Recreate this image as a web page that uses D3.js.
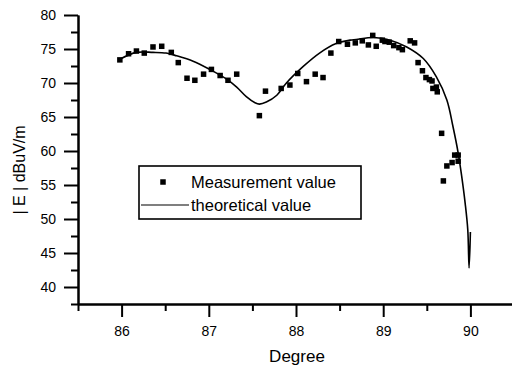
<!DOCTYPE html>
<html><head><meta charset="utf-8">
<script src="https://cdn.jsdelivr.net/npm/d3@7"></script>
<style>body{margin:0;background:#fff}svg{display:block}text{font-family:"Liberation Sans",Arial,sans-serif;fill:#000}</style>
</head><body>
<script>
const measDeg = [85.98,86.08,86.17,86.26,86.36,86.46,86.57,86.65,86.75,86.84,86.94,87.03,87.13,87.22,87.32,
  87.58,87.65,87.83,87.93,88.02,88.12,88.22,88.31,88.40,88.49,88.59,88.68,88.76,88.83,88.88,88.92,88.99,89.02,
  89.07,89.12,89.18,89.22,89.31,89.36,89.40,89.45,89.49,89.53,89.56,89.57,89.61,89.62,89.67,89.69,89.73,89.79,89.82,89.86,89.86];
const measVal = [73.4,74.3,74.7,74.4,75.3,75.4,74.5,73.0,70.7,70.4,71.3,72.0,71.1,70.4,71.3,
  65.2,68.8,69.2,69.7,71.4,70.2,71.3,70.8,74.4,76.1,75.7,75.9,76.2,75.6,77.0,75.4,76.3,76.1,
  76.0,75.5,75.2,74.9,76.2,75.9,73.0,71.8,70.8,70.5,70.3,69.2,69.4,68.7,62.6,55.6,57.8,58.3,59.4,59.4,58.5];
const theoDeg = [85.98,86.17,86.36,86.51,86.63,86.82,87.01,87.20,87.32,87.43,87.53,87.58,87.66,87.78,87.89,
  88.08,88.27,88.46,88.62,88.69,88.89,89.08,89.27,89.46,89.61,89.73,89.80,89.86,89.90,89.94,89.97,89.985,90.0];
const theoVal = [73.5,74.5,74.5,74.4,74.0,73.2,72.0,70.6,69.4,68.0,67.1,66.9,67.2,68.2,70.0,
  72.4,74.4,75.8,76.3,76.4,76.7,76.3,75.3,73.6,70.9,67.5,63.6,59.7,56.3,52.3,48.4,42.8,48.1];
const xTicks = [86,87,88,89,90];
const xMinor = [85.5,86.5,87.5,88.5,89.5,90.5];
const yTicks = [40,45,50,55,60,65,70,75,80];
const yMinor = [37.5,42.5,47.5,52.5,57.5,62.5,67.5,72.5,77.5];
const legendLabels = ["Measurement value","theoretical value"];
const xTitle = "Degree", yTitle = "| E | dBuV/m";

const W = 512, H = 369;
const svg = d3.select("body").append("svg").attr("width", W).attr("height", H);
const x = d3.scaleLinear().domain([85.5, 90.5]).range([78, 514]);
const y = d3.scaleLinear().domain([37.5, 80]).range([304, 15]);

function styleAxis(g){
  g.select(".domain").attr("stroke","#000").attr("stroke-width",2);
  g.selectAll(".tick line").attr("stroke","#000").attr("stroke-width",2);
  g.selectAll(".tick text").attr("font-size","14px").attr("font-family","Liberation Sans, Arial, sans-serif");
}
svg.append("g").attr("transform","translate(0,304)")
  .call(d3.axisBottom(x).tickValues(xMinor).tickSize(7).tickFormat("").tickSizeOuter(0)).call(styleAxis);
svg.append("g").attr("transform","translate(78,0)")
  .call(d3.axisLeft(y).tickValues(yMinor).tickSize(7).tickFormat("").tickSizeOuter(0)).call(styleAxis);
svg.append("g").attr("transform","translate(0,304)")
  .call(d3.axisBottom(x).tickValues(xTicks).tickSize(13).tickPadding(9).tickFormat(d3.format("d")).tickSizeOuter(0)).call(styleAxis);
svg.append("g").attr("transform","translate(78,0)")
  .call(d3.axisLeft(y).tickValues(yTicks).tickSize(14).tickPadding(8).tickFormat(d3.format("d")).tickSizeOuter(0)).call(styleAxis);

svg.append("text").attr("x",297).attr("y",362).attr("text-anchor","middle").attr("font-size","17px").text(xTitle);
svg.append("text").attr("transform","translate(25,170) rotate(-90)").attr("text-anchor","middle").attr("font-size","16px").text(yTitle);

const line = d3.line().x((d,i)=>x(theoDeg[i])).y((d,i)=>y(theoVal[i])).curve(d3.curveCatmullRom.alpha(0.5));
svg.append("path").datum(theoVal).attr("d", line).attr("fill","none").attr("stroke","#000").attr("stroke-width",1.6);

const s = 5.5;
svg.append("g").selectAll("rect").data(measVal).join("rect")
  .attr("x",(d,i)=>x(measDeg[i])-s/2).attr("y",d=>y(d)-s/2).attr("width",s).attr("height",s).attr("fill","#000");

const lg = svg.append("g");
lg.append("rect").attr("x",139).attr("y",166).attr("width",222).attr("height",53).attr("fill","#fff").attr("stroke","#000").attr("stroke-width",1.6);
lg.append("rect").attr("x",163-s/2).attr("y",182-s/2).attr("width",s).attr("height",s).attr("fill","#000");
lg.append("line").attr("x1",141).attr("x2",189).attr("y1",205).attr("y2",205).attr("stroke","#000").attr("stroke-width",1.2);
lg.append("text").attr("x",191).attr("y",188).attr("font-size","16.5px").text(legendLabels[0]);
lg.append("text").attr("x",191).attr("y",211).attr("font-size","16.5px").text(legendLabels[1]);
</script>
</body></html>
